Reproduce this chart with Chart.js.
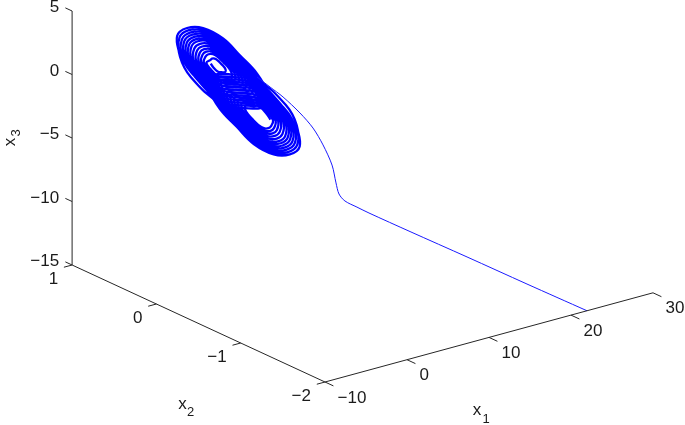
<!DOCTYPE html>
<html>
<head>
<meta charset="utf-8">
<title>Double scroll</title>
<script src="https://cdn.jsdelivr.net/npm/chart.js@4/dist/chart.umd.min.js"></script>
<style>
    html, body { margin: 0; padding: 0; background: #fff; }
    canvas { display: block; }
</style>
</head>
<body>
<canvas id="scrollChart" width="685" height="425"></canvas>
<script>
// tick values on the three axes
const x1Ticks = [-10, 0, 10, 20, 30];
const x2Ticks = [-2, -1, 0, 1];
const x3Ticks = [-15, -10, -5, 0, 5];

// start of the trajectory, from the floor up to the attractor
const transientX1 = [21.95, 16, 11, 7, 4.4, 3.8, 3.3, 3.1, 3, 3, 3, 2.9, 2.8, 2.7, 2.6, 2.6];
const transientX2 = [-2, -1.867, -1.642, -1.355, -1.121, -1.037, -0.943, -0.892, -0.866, -0.819, -0.712, -0.603, -0.458, -0.267, -0.122, 0.032];
const transientX3 = [-15, -12.26, -9.94, -8.12, -6.92, -6.61, -6.33, -5.90, -5.09, -3.83, -2.57, -1.56, -0.80, -0.11, 0.25, 0.57];

// upper scroll, read loop by loop from the outside in
const upperX1 = -2.6;
const upperX2 = [
    0.439,
    0.474, 0.356, 0.166, -0.071, -0.273, -0.474, -0.593, -0.581, -0.332, -0.036, 0.310, 0.439,
    0.446, 0.335, 0.156, -0.067, -0.257, -0.446, -0.557, -0.546, -0.312, -0.034, 0.268, 0.413,
    0.417, 0.313, 0.146, -0.062, -0.240, -0.417, -0.522, -0.511, -0.292, -0.032, 0.251, 0.386,
    0.389, 0.292, 0.136, -0.058, -0.224, -0.389, -0.486, -0.476, -0.272, -0.030, 0.234, 0.360,
    0.360, 0.271, 0.126, -0.054, -0.207, -0.360, -0.451, -0.442, -0.252, -0.027, 0.217, 0.334,
    0.332, 0.249, 0.116, -0.050, -0.191, -0.332, -0.415, -0.407, -0.232, -0.025, 0.200, 0.307,
    0.303, 0.228, 0.106, -0.045, -0.175, -0.303, -0.380, -0.372, -0.212, -0.023, 0.182, 0.281,
    0.270, 0.203, 0.095, -0.040, -0.156, -0.270, -0.338, -0.331, -0.189, -0.021, 0.162, 0.250,
    0.237, 0.178, 0.083, -0.036, -0.137, -0.237, -0.297, -0.291, -0.166, -0.018, 0.143, 0.220,
    0.204, 0.153, 0.071, -0.031, -0.117, -0.204, -0.255, -0.250, -0.143, -0.015, 0.123, 0.189,
    0.171, 0.128, 0.060, -0.026, -0.098, -0.171, -0.213, -0.209, -0.120, -0.013, 0.103, 0.158,
    0.137, 0.103, 0.048, -0.021, -0.079, -0.137, -0.172, -0.168, -0.096, -0.010, 0.083, 0.127,
    0.081, 0.061, 0.028, -0.012, -0.046, -0.081, -0.101, -0.099, -0.056, -0.006, 0.048, 0.075
];
const upperX3 = [
    1.80,
    3.35, 4.34, 4.92, 4.83, 4.10, 3.30, 2.22, 1.08, 0.15, -0.36, 0.60, 1.80,
    3.30, 4.23, 4.78, 4.62, 3.95, 3.20, 2.23, 1.16, 0.30, -0.19, 0.81, 1.85,
    3.25, 4.12, 4.64, 4.45, 3.81, 3.11, 2.25, 1.25, 0.44, -0.02, 0.92, 1.89,
    3.20, 4.01, 4.49, 4.31, 3.72, 3.07, 2.27, 1.34, 0.58, 0.16, 1.03, 1.93,
    3.15, 3.90, 4.35, 4.18, 3.64, 3.03, 2.29, 1.42, 0.72, 0.33, 1.14, 1.97,
    3.10, 3.79, 4.20, 4.05, 3.55, 2.99, 2.31, 1.51, 0.86, 0.50, 1.25, 2.02,
    3.05, 3.69, 4.06, 3.92, 3.46, 2.95, 2.32, 1.60, 1.01, 0.68, 1.36, 2.06,
    2.99, 3.56, 3.89, 3.77, 3.36, 2.90, 2.35, 1.70, 1.17, 0.88, 1.48, 2.11,
    2.93, 3.43, 3.72, 3.61, 3.25, 2.86, 2.37, 1.80, 1.34, 1.08, 1.61, 2.16,
    2.88, 3.30, 3.55, 3.46, 3.15, 2.81, 2.39, 1.90, 1.50, 1.28, 1.74, 2.21,
    2.82, 3.18, 3.39, 3.31, 3.05, 2.76, 2.41, 2.00, 1.67, 1.48, 1.87, 2.26,
    2.76, 3.05, 3.22, 3.15, 2.95, 2.71, 2.43, 2.10, 1.83, 1.68, 1.99, 2.31,
    2.66, 2.83, 2.93, 2.89, 2.77, 2.63, 2.47, 2.28, 2.12, 2.03, 2.21, 2.40
];

// lower scroll, has one loop less around its open middle
const lowerX1 = 2.6;
const lowerX2 = [
    -0.439,
    -0.474, -0.356, -0.166, 0.071, 0.273, 0.474, 0.593, 0.581, 0.332, 0.036, -0.310, -0.439,
    -0.446, -0.335, -0.156, 0.067, 0.257, 0.446, 0.557, 0.546, 0.312, 0.034, -0.268, -0.413,
    -0.417, -0.313, -0.146, 0.062, 0.240, 0.417, 0.522, 0.511, 0.292, 0.032, -0.251, -0.386,
    -0.389, -0.292, -0.136, 0.058, 0.224, 0.389, 0.486, 0.476, 0.272, 0.030, -0.234, -0.360,
    -0.360, -0.271, -0.126, 0.054, 0.207, 0.360, 0.451, 0.442, 0.252, 0.027, -0.217, -0.334,
    -0.332, -0.249, -0.116, 0.050, 0.191, 0.332, 0.415, 0.407, 0.232, 0.025, -0.200, -0.307,
    -0.303, -0.228, -0.106, 0.045, 0.175, 0.303, 0.380, 0.372, 0.212, 0.023, -0.182, -0.281,
    -0.270, -0.203, -0.095, 0.040, 0.156, 0.270, 0.338, 0.331, 0.189, 0.021, -0.162, -0.250,
    -0.237, -0.178, -0.083, 0.036, 0.137, 0.237, 0.297, 0.291, 0.166, 0.018, -0.143, -0.220,
    -0.204, -0.153, -0.071, 0.031, 0.117, 0.204, 0.255, 0.250, 0.143, 0.015, -0.123, -0.189,
    -0.171, -0.128, -0.060, 0.026, 0.098, 0.171, 0.213, 0.209, 0.120, 0.013, -0.103, -0.158,
    -0.137, -0.103, -0.048, 0.021, 0.079, 0.137, 0.172, 0.168, 0.096, 0.010, -0.083, -0.127
];
const lowerX3 = [
    -1.80,
    -3.35, -4.34, -4.92, -4.83, -4.10, -3.30, -2.22, -1.08, -0.15, 0.36, -0.60, -1.80,
    -3.30, -4.23, -4.78, -4.62, -3.95, -3.20, -2.23, -1.16, -0.30, 0.19, -0.81, -1.85,
    -3.25, -4.12, -4.64, -4.45, -3.81, -3.11, -2.25, -1.25, -0.44, 0.02, -0.92, -1.89,
    -3.20, -4.01, -4.49, -4.31, -3.72, -3.07, -2.27, -1.34, -0.58, -0.16, -1.03, -1.93,
    -3.15, -3.90, -4.35, -4.18, -3.64, -3.03, -2.29, -1.42, -0.72, -0.33, -1.14, -1.97,
    -3.10, -3.79, -4.20, -4.05, -3.55, -2.99, -2.31, -1.51, -0.86, -0.50, -1.25, -2.02,
    -3.05, -3.69, -4.06, -3.92, -3.46, -2.95, -2.32, -1.60, -1.01, -0.68, -1.36, -2.06,
    -2.99, -3.56, -3.89, -3.77, -3.36, -2.90, -2.35, -1.70, -1.17, -0.88, -1.48, -2.11,
    -2.93, -3.43, -3.72, -3.61, -3.25, -2.86, -2.37, -1.80, -1.34, -1.08, -1.61, -2.16,
    -2.88, -3.30, -3.55, -3.46, -3.15, -2.81, -2.39, -1.90, -1.50, -1.28, -1.74, -2.21,
    -2.82, -3.18, -3.39, -3.31, -3.05, -2.76, -2.41, -2.00, -1.67, -1.48, -1.87, -2.26,
    -2.76, -3.05, -3.22, -3.15, -2.95, -2.71, -2.43, -2.10, -1.83, -1.68, -1.99, -2.31
];

// view of the 3D box, one data unit along each axis in canvas pixels
function project(x1, x2, x3) {
    return {
        x: 238.4 + 8.2 * x1 - 84.3 * x2,
        y: 91.2 - 2.23 * x1 - 39 * x2 - 12.7 * x3
    };
}

function seg(a, b) {
    return [project(a[0], a[1], a[2]), project(b[0], b[1], b[2])];
}

const axisColor = "#262626";
const datasets = [];

function addLine(points, color, width, tension) {
    datasets.push({
        data: points,
        borderColor: color,
        borderWidth: width,
        pointRadius: 0,
        tension: tension || 0,
        showLine: true,
        fill: false,
        clip: false
    });
}

// box edges
addLine(seg([-10, 1, -15], [-10, 1, 5]), axisColor, 1);
addLine(seg([-10, 1, -15], [-10, -2, -15]), axisColor, 1);
addLine(seg([-10, -2, -15], [30, -2, -15]), axisColor, 1);

// ticks
x1Ticks.forEach(v => addLine(seg([v, -2, -15], [v, -2.1, -15]), axisColor, 1));
x2Ticks.forEach(v => addLine(seg([-10, v, -15], [-11, v, -15]), axisColor, 1));
x3Ticks.forEach(v => addLine(seg([-10, 1, v], [-10, 1.08, v]), axisColor, 1));

// trajectory
addLine(transientX1.map((v, i) => project(v, transientX2[i], transientX3[i])), "#1a1aff", 1, 0.3);
addLine(upperX2.map((v, i) => project(upperX1, v, upperX3[i])), "#0000ff", 2.3, 0.4);
addLine(lowerX2.map((v, i) => project(lowerX1, v, lowerX3[i])), "#0000ff", 2.3, 0.4);

function fmt(v) {
    return String(v).replace("-", "\u2212");
}

const tickLabels = {
    id: "tickLabels",
    afterDatasetsDraw(chart) {
        const ctx = chart.ctx;
        const sx = chart.scales.x;
        const sy = chart.scales.y;
        const put = (text, p, dx, dy, align, size) => {
            ctx.font = (size || 17) + 'px "Liberation Sans"';
            ctx.textAlign = align;
            ctx.textBaseline = "middle";
            ctx.fillText(text, sx.getPixelForValue(p.x) + dx, sy.getPixelForValue(p.y) + dy);
        };
        ctx.save();
        ctx.fillStyle = "#1a1a1a";
        x1Ticks.forEach(v => put(fmt(v), project(v, -2, -15), 12.5, 16, "left"));
        x2Ticks.forEach(v => put(fmt(v), project(-10, v, -15), -14, 14.5, "right"));
        x3Ticks.forEach(v => put(fmt(v), project(-10, 1, v), -13, -3.5, "right"));

        // axis titles
        put("x", project(10, -2, -15), -12, 73, "center");
        put("1", project(10, -2, -15), -3, 82, "center", 13);
        put("x", project(-10, -0.5, -15), -16, 81, "center");
        put("2", project(-10, -0.5, -15), -8, 89, "center", 13);

        const mid = project(-10, 1, -5);
        ctx.translate(sx.getPixelForValue(mid.x) - 62, sy.getPixelForValue(mid.y));
        ctx.rotate(-Math.PI / 2);
        ctx.font = '17px "Liberation Sans"';
        ctx.textAlign = "center";
        ctx.fillText("x", -4, 0);
        ctx.font = '13px "Liberation Sans"';
        ctx.fillText("3", 5, 6);
        ctx.restore();
    }
};

new Chart(document.getElementById("scrollChart"), {
    type: "scatter",
    data: { datasets: datasets },
    options: {
        responsive: false,
        animation: false,
        layout: { padding: 0 },
        plugins: { legend: { display: false }, tooltip: { enabled: false } },
        scales: {
            x: { type: "linear", min: 0, max: 685, display: false },
            y: { type: "linear", min: 0, max: 425, reverse: true, display: false }
        }
    },
    plugins: [tickLabels]
});
</script>
</body>
</html>
